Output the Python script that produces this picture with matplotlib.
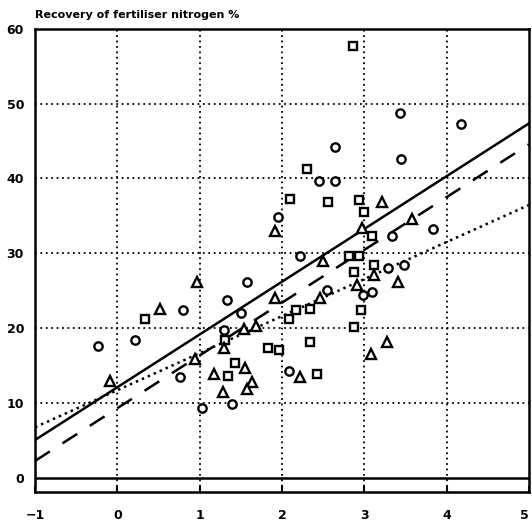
import numpy as np
import matplotlib.pyplot as plt

# recovery of fertiliser N (%) against x, three groups of sites
sq_x = [2.86, 2.31, 2.10, 2.56, 2.94, 3.00, 3.09, 2.81, 2.94, 2.87, 3.12, 2.96,
        2.87, 2.34, 2.17, 2.09, 2.34, 1.83, 1.97, 2.43, 0.33, 1.31, 1.43, 1.35]
sq_y = [57.7, 41.3, 37.3, 36.8, 37.1, 35.5, 32.3, 29.6, 29.6, 27.5, 28.5, 22.4,
        20.1, 22.5, 22.4, 21.2, 18.1, 17.3, 17.1, 13.8, 21.2, 18.4, 15.4, 13.6]

ci_x = [3.43, 4.18, 2.64, 3.45, 2.45, 2.64, 1.95, 3.84, 3.34, 2.22, 3.29, 3.48, 2.98,
        3.09, 2.55, 2.09, 1.58, 1.33, 1.50, 1.29, 0.80, 0.21, -0.24, 0.76, 1.03, 1.39]
ci_y = [48.8, 47.3, 44.2, 42.6, 39.6, 39.6, 34.8, 33.3, 32.3, 29.6, 28.1, 28.4, 24.4,
        24.8, 25.1, 14.2, 26.2, 23.7, 22.0, 19.7, 22.4, 18.4, 17.6, 13.4, 9.3, 9.9]

tr_x = [1.91, 3.22, 3.58, 2.97, 2.50, 3.12, 3.41, 2.91, 2.46, 1.92, 1.68, 1.54, 3.28,
        3.08, 2.22, 1.64, 1.57, 1.28, 1.18, 1.55, 0.97, 0.52, 0.94, -0.09, 1.29]
tr_y = [33.0, 36.9, 34.6, 33.4, 29.0, 27.1, 26.1, 25.7, 24.0, 24.0, 20.3, 19.9, 18.1,
        16.5, 13.4, 12.8, 11.9, 11.4, 13.8, 14.7, 26.1, 22.5, 15.9, 12.9, 17.3]

# fitted lines: (intercept, slope)
fit_solid = (12.1, 7.05)
fit_dashed = (9.3, 7.05)
fit_dotted = (11.7, 4.95)

x_ticks = [-1, 0, 1, 2, 3, 4, 5]
y_ticks = [0, 10, 20, 30, 40, 50, 60]

plt.rcParams['font.family'] = 'DejaVu Sans'
plt.rcParams['font.weight'] = 'bold'

fig = plt.figure(figsize=(5.32, 5.25), dpi=100)
ax = fig.add_axes([0.066, 0.063, 0.928, 0.882])

for gx in x_ticks[1:-1]:
    ax.axvline(gx, color='black', lw=1.3, ls=(0, (1, 2)), zorder=1)
for gy in y_ticks[1:-1]:
    ax.axhline(gy, color='black', lw=1.3, ls=(0, (1, 2)), zorder=1)
ax.axhline(0, color='black', lw=1.8, zorder=2)

xx = np.array([-1, 5])
ax.plot(xx, fit_solid[0] + fit_solid[1] * xx, color='black', lw=1.8, zorder=3)
ax.plot(xx, fit_dashed[0] + fit_dashed[1] * xx, color='black', lw=1.8,
        ls=(0, (7, 6)), zorder=3)
ax.plot(xx, fit_dotted[0] + fit_dotted[1] * xx, color='black', lw=1.8,
        ls=(0, (1, 1.6)), zorder=3)

ax.plot(sq_x, sq_y, ls='none', marker='s', ms=5.5, mfc='white', mec='black', mew=1.7, zorder=4)
ax.plot(ci_x, ci_y, ls='none', marker='o', ms=6, mfc='white', mec='black', mew=1.7, zorder=4)
ax.plot(tr_x, tr_y, ls='none', marker='^', ms=6.5, mfc='white', mec='black', mew=1.7, zorder=4)

ax.set_xlim(-1, 5)
ax.set_ylim(-1.9, 60)
ax.set_xticks(x_ticks)
ax.set_yticks(y_ticks)
ax.tick_params(axis='x', direction='in', length=4, width=1.5, pad=12, labelsize=9)
ax.tick_params(axis='y', length=0, pad=8, labelsize=9)
ax.get_xticklabels()[-1].set_horizontalalignment('right')
for s in ax.spines.values():
    s.set_linewidth(1.8)

fig.text(0.066, 0.962, 'Recovery of fertiliser nitrogen %', fontsize=8,
         fontweight='bold', ha='left', va='bottom')

fig.savefig('out.png', dpi=100)
